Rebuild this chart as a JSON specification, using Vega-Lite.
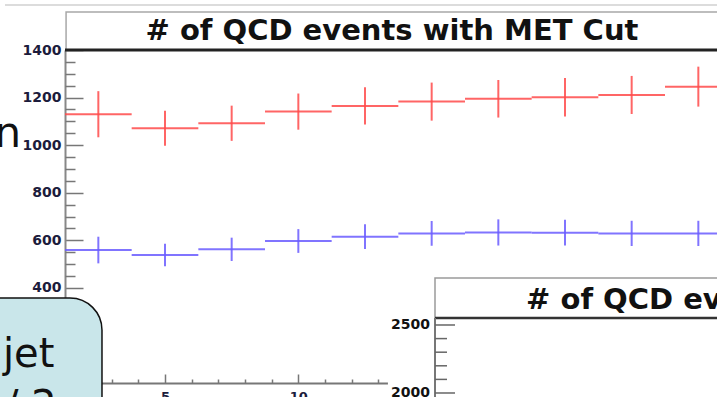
{
  "$schema": "https://vega.github.io/schema/vega-lite/v6.json",
  "width": 652,
  "height": 333,
  "autosize": "none",
  "padding": {"left": 65, "top": 50, "right": 0, "bottom": 14},
  "background": "white",
  "config": {"view": {"stroke": null}},
  "datasets": {
    "hists": [
      {"series": "Hist 1", "bin_start": 1.25, "bin_end": 3.75, "center": 2.5, "count": 1130, "err": 97},
      {"series": "Hist 1", "bin_start": 3.75, "bin_end": 6.25, "center": 5, "count": 1071, "err": 74},
      {"series": "Hist 1", "bin_start": 6.25, "bin_end": 8.75, "center": 7.5, "count": 1092, "err": 74},
      {"series": "Hist 1", "bin_start": 8.75, "bin_end": 11.25, "center": 10, "count": 1141, "err": 76},
      {"series": "Hist 1", "bin_start": 11.25, "bin_end": 13.75, "center": 12.5, "count": 1165, "err": 78},
      {"series": "Hist 1", "bin_start": 13.75, "bin_end": 16.25, "center": 15, "count": 1183, "err": 80},
      {"series": "Hist 1", "bin_start": 16.25, "bin_end": 18.75, "center": 17.5, "count": 1195, "err": 79},
      {"series": "Hist 1", "bin_start": 18.75, "bin_end": 21.25, "center": 20, "count": 1201, "err": 81},
      {"series": "Hist 1", "bin_start": 21.25, "bin_end": 23.75, "center": 22.5, "count": 1211, "err": 80},
      {"series": "Hist 1", "bin_start": 23.75, "bin_end": 26.25, "center": 25, "count": 1246, "err": 84},
      {"series": "Hist 2", "bin_start": 1.25, "bin_end": 3.75, "center": 2.5, "count": 559, "err": 56},
      {"series": "Hist 2", "bin_start": 3.75, "bin_end": 6.25, "center": 5, "count": 538, "err": 47},
      {"series": "Hist 2", "bin_start": 6.25, "bin_end": 8.75, "center": 7.5, "count": 562, "err": 49},
      {"series": "Hist 2", "bin_start": 8.75, "bin_end": 11.25, "center": 10, "count": 597, "err": 50},
      {"series": "Hist 2", "bin_start": 11.25, "bin_end": 13.75, "center": 12.5, "count": 615, "err": 52},
      {"series": "Hist 2", "bin_start": 13.75, "bin_end": 16.25, "center": 15, "count": 629, "err": 52},
      {"series": "Hist 2", "bin_start": 16.25, "bin_end": 18.75, "center": 17.5, "count": 633, "err": 55},
      {"series": "Hist 2", "bin_start": 18.75, "bin_end": 21.25, "center": 20, "count": 632, "err": 54},
      {"series": "Hist 2", "bin_start": 21.25, "bin_end": 23.75, "center": 22.5, "count": 629, "err": 53},
      {"series": "Hist 2", "bin_start": 23.75, "bin_end": 26.25, "center": 25, "count": 629, "err": 53}
    ],
    "ticks2": [
      {"v": 2000}, {"v": 2100}, {"v": 2200}, {"v": 2300}, {"v": 2400}, {"v": 2500}
    ],
    "one": [{}]
  },
  "resolve": {"scale": {"y": "independent"}},
  "layer": [
    {
      "resolve": {"axis": {"x": "independent", "y": "independent"}},
      "layer": [
        {
          "data": {"name": "one"},
          "mark": {"type": "rule", "color": "#dcdcdc", "strokeWidth": 2},
          "encoding": {
            "x": {"datum": -1.0, "type": "quantitative", "scale": {"domain": [1.25, 25.7], "nice": false, "zero": false}, "axis": null},
            "x2": {"datum": 27},
            "y": {"datum": 1589, "type": "quantitative", "scale": {"domain": [0, 1400], "nice": false, "zero": false}, "axis": null}
          }
        },
        {
          "data": {"name": "one"},
          "mark": {"type": "rect", "fill": "white", "stroke": "#a8a8a8", "strokeWidth": 1.5},
          "encoding": {
            "x": {"datum": 1.29, "type": "quantitative", "axis": null},
            "x2": {"datum": 27},
            "y": {"datum": 1560, "type": "quantitative", "axis": null},
            "y2": {"datum": 1400}
          }
        },
        {
          "data": {"name": "one"},
          "mark": {"type": "text", "text": "# of QCD events with MET Cut", "font": "DejaVu Sans", "fontWeight": "bold", "fontSize": 29, "align": "center", "baseline": "alphabetic", "color": "#111"},
          "encoding": {
            "x": {"datum": 13.51, "type": "quantitative", "axis": null},
            "y": {"datum": 1442, "type": "quantitative", "axis": null}
          }
        },
        {
          "data": {"name": "hists"},
          "mark": {"type": "rule", "strokeWidth": 2, "opacity": 0.85},
          "encoding": {
            "x": {
              "field": "bin_start", "type": "quantitative",
              "axis": {
                "orient": "bottom", "title": null, "grid": false, "format": "d",
                "values": [5, 10, 15, 20, 25],
                "tickSize": -9,
                "labelPadding": 16,
                "domainColor": "#777", "domainWidth": 2,
                "tickColor": "#777", "tickWidth": 1.5,
                "labelFont": "DejaVu Sans", "labelFontWeight": "bold", "labelFontSize": 13, "labelColor": "#1c1c3c"
              }
            },
            "x2": {"field": "bin_end"},
            "y": {
              "field": "count", "type": "quantitative",
              "axis": {
                "orient": "left", "title": null, "grid": false, "format": "d",
                "values": [0, 200, 400, 600, 800, 1000, 1200, 1400],
                "tickSize": -18,
                "labelPadding": 22,
                "domainColor": "#888", "domainWidth": 2,
                "tickColor": "#777", "tickWidth": 1.5,
                "labelFont": "DejaVu Sans", "labelFontWeight": "bold", "labelFontSize": 14, "labelColor": "#1c1c3c"
              }
            },
            "color": {"field": "series", "type": "nominal", "scale": {"domain": ["Hist 1", "Hist 2"], "range": ["#ff4a4a", "#6a5cff"]}, "legend": null}
          }
        },
        {
          "data": {"name": "hists"},
          "mark": {"type": "errorbar", "thickness": 2, "opacity": 0.85},
          "encoding": {
            "x": {
              "field": "center", "type": "quantitative",
              "axis": {
                "orient": "bottom", "title": null, "grid": false, "labels": false, "domain": false,
                "values": [2, 3, 4, 6, 7, 8, 9, 11, 12, 13, 14, 16, 17, 18, 19, 21, 22, 23, 24],
                "tickSize": -4, "tickColor": "#777", "tickWidth": 1.5
              }
            },
            "y": {
              "field": "count", "type": "quantitative",
              "axis": {
                "orient": "left", "title": null, "grid": false, "labels": false, "domain": false,
                "values": [50, 100, 150, 250, 300, 350, 450, 500, 550, 650, 700, 750, 850, 900, 950, 1050, 1100, 1150, 1250, 1300, 1350],
                "tickSize": -10, "tickColor": "#777", "tickWidth": 1.5
              }
            },
            "yError": {"field": "err"},
            "color": {"field": "series", "type": "nominal", "legend": null}
          }
        },
        {
          "data": {"name": "one"},
          "mark": {"type": "rect", "fill": "white"},
          "encoding": {
            "x": {"datum": 13.36, "type": "quantitative", "axis": null},
            "x2": {"datum": 27},
            "y": {"datum": -400, "type": "quantitative", "axis": null},
            "y2": {"datum": 441.4}
          }
        },
        {
          "data": {"name": "one"},
          "mark": {"type": "rect", "fill": "white", "stroke": "#9a9a9a", "strokeWidth": 1.5},
          "encoding": {
            "x": {"datum": 15.125, "type": "quantitative", "axis": null},
            "x2": {"datum": 27},
            "y": {"datum": -400, "type": "quantitative", "axis": null},
            "y2": {"datum": 441.4}
          }
        },
        {
          "data": {"name": "one"},
          "mark": {"type": "rule", "color": "#333", "strokeWidth": 2.5},
          "encoding": {
            "x": {"datum": 15.125, "type": "quantitative", "axis": null},
            "x2": {"datum": 27},
            "y": {"datum": 273.3, "type": "quantitative", "axis": null}
          }
        },
        {
          "data": {"name": "one"},
          "mark": {"type": "text", "text": "# of QCD events without MET Cut", "font": "DejaVu Sans", "fontWeight": "bold", "fontSize": 29, "align": "left", "baseline": "alphabetic", "color": "#111"},
          "encoding": {
            "x": {"datum": 18.54, "type": "quantitative", "axis": null},
            "y": {"datum": 311, "type": "quantitative", "axis": null}
          }
        },
        {
          "data": {"name": "one"},
          "mark": {"type": "rule", "color": "#777", "strokeWidth": 2},
          "encoding": {
            "x": {"datum": 15.125, "type": "quantitative", "axis": null},
            "y": {"datum": 273.3, "type": "quantitative", "axis": null},
            "y2": {"datum": -400}
          }
        },
        {
          "data": {"name": "one"},
          "mark": {"type": "rule", "color": "#222", "strokeWidth": 3},
          "encoding": {
            "x": {"datum": 1.25, "type": "quantitative", "axis": null},
            "x2": {"datum": 27},
            "y": {"datum": 1400, "type": "quantitative", "axis": null}
          }
        },
        {
          "data": {"name": "one"},
          "mark": {"type": "rect", "fill": "#c9e6ea", "stroke": "#111", "strokeWidth": 1.5, "cornerRadius": 32},
          "encoding": {
            "x": {"datum": -2.69, "type": "quantitative", "axis": null},
            "x2": {"datum": 2.637},
            "y": {"datum": -323.7, "type": "quantitative", "axis": null},
            "y2": {"datum": 357.4}
          }
        },
        {
          "data": {"name": "one"},
          "mark": {"type": "text", "text": "jet", "font": "DejaVu Sans", "fontSize": 40, "align": "left", "baseline": "alphabetic", "color": "#111"},
          "encoding": {
            "x": {"datum": -1.075, "type": "quantitative", "axis": null},
            "y": {"datum": 67.3, "type": "quantitative", "axis": null}
          }
        },
        {
          "data": {"name": "one"},
          "mark": {"type": "text", "text": "/ 2", "font": "DejaVu Sans", "fontSize": 40, "align": "left", "baseline": "alphabetic", "color": "#111"},
          "encoding": {
            "x": {"datum": -1.0, "type": "quantitative", "axis": null},
            "y": {"datum": -150, "type": "quantitative", "axis": null}
          }
        },
        {
          "data": {"name": "one"},
          "mark": {"type": "text", "text": "n", "font": "DejaVu Sans", "fontSize": 42, "align": "right", "baseline": "alphabetic", "color": "#111"},
          "encoding": {
            "x": {"datum": -0.4, "type": "quantitative", "axis": null},
            "y": {"datum": 992, "type": "quantitative", "axis": null}
          }
        }
      ]
    },
    {
      "data": {"name": "ticks2"},
      "layer": [
        {
          "transform": [{"filter": "datum.v % 500 === 0"}],
          "mark": {"type": "rule", "color": "#666", "strokeWidth": 1.5},
          "encoding": {
            "x": {"datum": 15.125, "type": "quantitative", "axis": null},
            "x2": {"datum": 15.875},
            "y": {"field": "v", "type": "quantitative", "scale": {"domain": [2073.5, 4522], "nice": false, "zero": false}, "axis": null}
          }
        },
        {
          "transform": [{"filter": "datum.v % 500 !== 0"}],
          "mark": {"type": "rule", "color": "#666", "strokeWidth": 1.5},
          "encoding": {
            "x": {"datum": 15.125, "type": "quantitative", "axis": null},
            "x2": {"datum": 15.575},
            "y": {"field": "v", "type": "quantitative", "axis": null}
          }
        },
        {
          "transform": [{"filter": "datum.v % 500 === 0"}],
          "mark": {"type": "text", "align": "right", "baseline": "middle", "dx": -5, "font": "DejaVu Sans", "fontWeight": "bold", "fontSize": 14, "color": "#111"},
          "encoding": {
            "x": {"datum": 15.125, "type": "quantitative", "axis": null},
            "y": {"field": "v", "type": "quantitative", "axis": null},
            "text": {"field": "v", "type": "quantitative", "format": "d"}
          }
        }
      ]
    }
  ]
}
